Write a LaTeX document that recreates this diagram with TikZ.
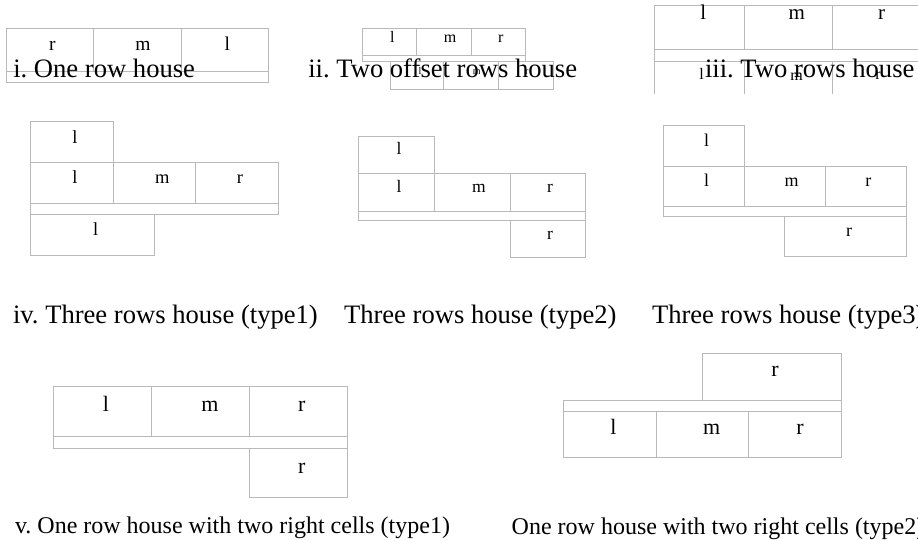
\documentclass[tikz,border=0pt]{standalone}
\usepackage{fontspec}
\setmainfont{Liberation Serif}
\frenchspacing
\definecolor{linegray}{RGB}{185,185,185}
\newcommand{\fsz}[1]{\fontsize{#1}{#1}\selectfont}
\tikzset{
  wall/.style={draw=linegray, line width=0.9pt},
  lab/.style={anchor=base, inner sep=0pt, outer sep=0pt},
  captxt/.style={anchor=base west, inner sep=0pt, outer sep=0pt},
}
\begin{document}
\begin{tikzpicture}[x=1pt, y=-1pt]
\useasboundingbox (0,0) rectangle (918,540);
\clip (0,0) rectangle (918,540);

% ---------- top strip (clipped) ----------
\begin{scope}
\clip (0,0) rectangle (918,94);
% i. One row house
\draw[wall] (6.7,28.3) rectangle (268.3,82.3);
\draw[wall] (6.7,71.3) -- (268.3,71.3);
\draw[wall] (93.7,28.3) -- (93.7,71.3);
\draw[wall] (181,28.3) -- (181,71.3);
\node[lab, font=\fsz{19.5}] (i1) at (52.3,50.5) {r};
\node[lab, font=\fsz{19.5}] (i2) at (143,50.5) {m};
\node[lab, font=\fsz{19.5}] (i3) at (227.3,50.5) {l};
% ii. Two offset rows house
\draw[wall] (362.3,28.3) rectangle (525.7,61.7);
\draw[wall] (362.3,55.3) -- (525.7,55.3);
\draw[wall] (416.7,28.3) -- (416.7,55.3);
\draw[wall] (471.3,28.3) -- (471.3,55.3);
\draw[wall] (390,61.7) rectangle (553.3,89.3);
\draw[wall] (443.3,61.7) -- (443.3,89.3);
\draw[wall] (498.3,61.7) -- (498.3,89.3);
\node[lab, font=\fsz{16}] (ii1) at (392.3,42.7) {l};
\node[lab, font=\fsz{16}] (ii2) at (450,42.7) {m};
\node[lab, font=\fsz{16}] (ii3) at (500.7,42.7) {r};
\node[lab, font=\fsz{10}] (ii4) at (420,75) {l};
\node[lab, font=\fsz{10}] (ii5) at (476.7,75) {m};
\node[lab, font=\fsz{10}] (ii6) at (526.7,75) {r};
% iii. Two rows house
\draw[wall] (654.3,5) rectangle (921,120);
\draw[wall] (654.3,49.3) -- (921,49.3);
\draw[wall] (654.3,61) -- (921,61);
\draw[wall] (744,5) -- (744,49.3);
\draw[wall] (832.3,5) -- (832.3,49.3);
\draw[wall] (744,61) -- (744,120);
\draw[wall] (832.3,61) -- (832.3,120);
\node[lab, font=\fsz{21}] (iii1) at (703.3,20) {l};
\node[lab, font=\fsz{21}] (iii2) at (796.7,20) {m};
\node[lab, font=\fsz{21}] (iii3) at (881.7,20) {r};
\node[lab, font=\fsz{16}] (iii4) at (701.7,80) {l};
\node[lab, font=\fsz{16}] (iii5) at (796.7,81) {m};
\node[lab, font=\fsz{16}] (iii6) at (878,80) {r};
% captions
\node[captxt, font=\fsz{26.6}] (c1) at (13.3,77.3) {i. One row house};
\node[captxt, font=\fsz{26.6}] (c2) at (308.3,77.3) {ii. Two offset rows house};
\node[captxt, font=\fsz{26.6}] (c3) at (705,77.3) {iii. Two rows house};
\end{scope}

% ---------- middle row ----------
% iv type1
\draw[wall] (30.3,121.7) rectangle (113.3,162.3);
\draw[wall] (30.3,162.3) rectangle (278.3,214.3);
\draw[wall] (30.3,203.3) -- (278.3,203.3);
\draw[wall] (113.3,162.3) -- (113.3,203.3);
\draw[wall] (195.7,162.3) -- (195.7,203.3);
\draw[wall] (30.3,214.3) rectangle (154.3,255);
\node[lab, font=\fsz{18.5}] (a1) at (75,143.3) {l};
\node[lab, font=\fsz{18.5}] (a2) at (75,184) {l};
\node[lab, font=\fsz{18.5}] (a3) at (162.3,184) {m};
\node[lab, font=\fsz{18.5}] (a4) at (240,184) {r};
\node[lab, font=\fsz{18.5}] (a5) at (95.7,235) {l};
% type2
\draw[wall] (358.3,136) rectangle (434.3,173.3);
\draw[wall] (358.3,173.3) rectangle (585.7,220.3);
\draw[wall] (358.3,211) -- (585.7,211);
\draw[wall] (434.3,173.3) -- (434.3,211);
\draw[wall] (510,173.3) -- (510,211);
\draw[wall] (510,220.3) rectangle (585.7,257.7);
\node[lab, font=\fsz{17.5}] (b1) at (399,154.3) {l};
\node[lab, font=\fsz{17.5}] (b2) at (399,192.7) {l};
\node[lab, font=\fsz{17.5}] (b3) at (479,192.7) {m};
\node[lab, font=\fsz{17.5}] (b4) at (550,192.7) {r};
\node[lab, font=\fsz{17.5}] (b5) at (550,240) {r};
% type3
\draw[wall] (663.3,125.7) rectangle (744.3,166.7);
\draw[wall] (663.3,166.7) rectangle (906.7,216);
\draw[wall] (663.3,206) -- (906.7,206);
\draw[wall] (744.3,166.7) -- (744.3,206);
\draw[wall] (825.7,166.7) -- (825.7,206);
\draw[wall] (784.3,216) rectangle (906.7,256);
\node[lab, font=\fsz{18}] (d1) at (706.7,146.7) {l};
\node[lab, font=\fsz{18}] (d2) at (706.7,186.7) {l};
\node[lab, font=\fsz{18}] (d3) at (791.7,186.7) {m};
\node[lab, font=\fsz{18}] (d4) at (868.3,186.7) {r};
\node[lab, font=\fsz{18}] (d5) at (849,236.7) {r};
% middle captions
\node[captxt, font=\fsz{26.6}] (c4) at (13,323.5) {iv. Three rows house (type1)};
\node[captxt, font=\fsz{26.6}] (c5) at (344,323.5) {Three rows house (type2)};
\node[captxt, font=\fsz{26.6}] (c6) at (652,323.5) {Three rows house (type3)};

% ---------- bottom row ----------
% v type1
\draw[wall] (53.3,386.7) rectangle (347.7,448.3);
\draw[wall] (53.3,436) -- (347.7,436);
\draw[wall] (151.7,386.7) -- (151.7,436);
\draw[wall] (249.3,386.7) -- (249.3,436);
\draw[wall] (249.3,448.3) rectangle (347.7,497);
\node[lab, font=\fsz{22}] (e1) at (106,411.7) {l};
\node[lab, font=\fsz{22}] (e2) at (210,411.7) {m};
\node[lab, font=\fsz{22}] (e3) at (301.7,411.7) {r};
\node[lab, font=\fsz{22}] (e4) at (301.7,473.3) {r};
% type2
\draw[wall] (702.3,353.3) rectangle (841.7,400.3);
\draw[wall] (563.3,400.3) rectangle (841.7,457.3);
\draw[wall] (563.3,411) -- (841.7,411);
\draw[wall] (656.3,411) -- (656.3,457.3);
\draw[wall] (748.3,411) -- (748.3,457.3);
\node[lab, font=\fsz{22}] (f1) at (775,376.7) {r};
\node[lab, font=\fsz{22}] (f2) at (613.3,434) {l};
\node[lab, font=\fsz{22}] (f3) at (711.7,434) {m};
\node[lab, font=\fsz{22}] (f4) at (800,434) {r};
% bottom captions
\node[captxt, font=\fsz{24}] (c7) at (15,533) {v. One row house with two right cells (type1)};
\node[captxt, font=\fsz{24}] (c8) at (511.7,534) {One row house with two right cells (type2)};
\end{tikzpicture}
\end{document}
